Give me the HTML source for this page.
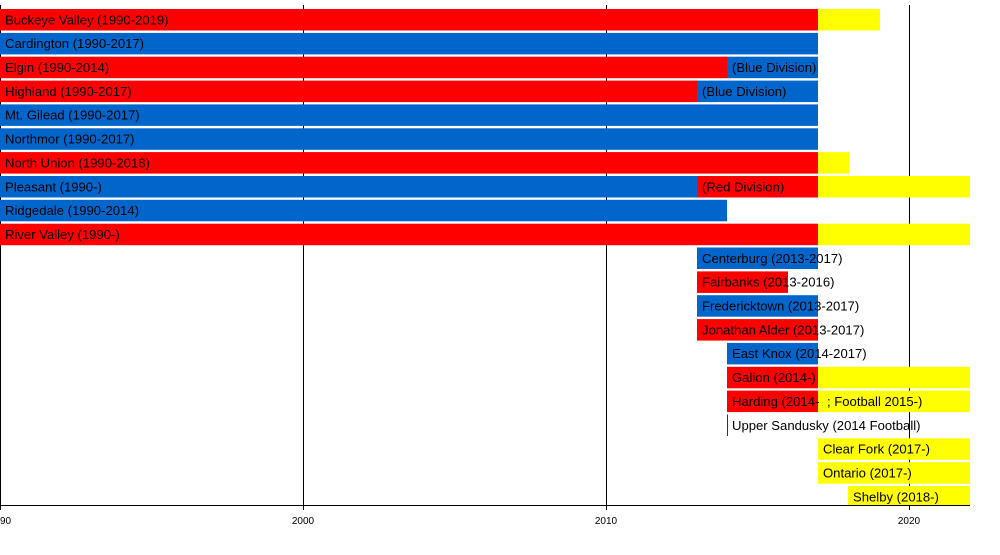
<!DOCTYPE html>
<html><head><style>html,body{margin:0;padding:0;background:#fff;}svg{display:block;}</style></head>
<body>
<svg width="1000" height="555" xmlns="http://www.w3.org/2000/svg" font-family="Liberation Sans, sans-serif">
<g stroke="#000" stroke-width="1">
<line x1="0.5" y1="5" x2="0.5" y2="510"/>
<line x1="303.5" y1="5" x2="303.5" y2="510"/>
<line x1="606.5" y1="5" x2="606.5" y2="510"/>
<line x1="909.5" y1="5" x2="909.5" y2="510"/>
</g>
<g font-size="13.1" fill="#000">
<rect x="0" y="9" width="818" height="21.5" fill="#f00"/><rect x="818" y="9" width="62" height="21.5" fill="#ff0"/>
<text x="5" y="24.3">Buckeye Valley (1990-2019)</text>

<rect x="0" y="32.9" width="818" height="21.5" fill="#0066cc"/>
<text x="5" y="48.2">Cardington (1990-2017)</text>

<rect x="0" y="56.7" width="727" height="21.5" fill="#f00"/><rect x="727" y="56.7" width="91" height="21.5" fill="#0066cc"/>
<text x="5" y="72">Elgin (1990-2014)</text><text x="732" y="72">(Blue Division)</text>

<rect x="0" y="80.6" width="697" height="21.5" fill="#f00"/><rect x="697" y="80.6" width="121" height="21.5" fill="#0066cc"/>
<text x="5" y="95.9">Highland (1990-2017)</text><text x="702" y="95.9">(Blue Division)</text>

<rect x="0" y="104.4" width="818" height="21.5" fill="#0066cc"/>
<text x="5" y="119.7">Mt. Gilead (1990-2017)</text>

<rect x="0" y="128.3" width="818" height="21.5" fill="#0066cc"/>
<text x="5" y="143.6">Northmor (1990-2017)</text>

<rect x="0" y="152.1" width="818" height="21.5" fill="#f00"/><rect x="818" y="152.1" width="31" height="21.5" fill="#ff0"/>
<text x="5" y="167.4">North Union (1990-2018)</text>

<rect x="0" y="176" width="697" height="21.5" fill="#0066cc"/><rect x="697" y="176" width="121" height="21.5" fill="#f00"/><rect x="818" y="176" width="152" height="21.5" fill="#ff0"/>
<text x="5" y="191.3">Pleasant (1990-)</text><text x="702" y="191.3">(Red Division)</text>

<rect x="0" y="199.8" width="727" height="21.5" fill="#0066cc"/>
<text x="5" y="215.1">Ridgedale (1990-2014)</text>

<rect x="0" y="223.7" width="818" height="21.5" fill="#f00"/><rect x="818" y="223.7" width="152" height="21.5" fill="#ff0"/>
<text x="5" y="239">River Valley (1990-)</text>

<rect x="697" y="247.5" width="121" height="21.5" fill="#0066cc"/>
<text x="702" y="262.8">Centerburg (2013-2017)</text>

<rect x="697" y="271.4" width="91" height="21.5" fill="#f00"/>
<text x="702" y="286.7">Fairbanks (2013-2016)</text>

<rect x="697" y="295.2" width="121" height="21.5" fill="#0066cc"/>
<text x="702" y="310.5">Fredericktown (2013-2017)</text>

<rect x="697" y="319.1" width="121" height="21.5" fill="#f00"/>
<text x="702" y="334.4">Jonathan Alder (2013-2017)</text>

<rect x="727" y="342.9" width="91" height="21.5" fill="#0066cc"/>
<text x="732" y="358.2">East Knox (2014-2017)</text>

<rect x="727" y="366.8" width="91" height="21.5" fill="#f00"/><rect x="818" y="366.8" width="152" height="21.5" fill="#ff0"/>
<text x="732" y="382.1">Galion (2014-)</text>

<rect x="727" y="390.6" width="91" height="21.5" fill="#f00"/><rect x="818" y="390.6" width="152" height="21.5" fill="#ff0"/>
<text x="732" y="405.9">Harding (2014-</text><text x="827" y="405.9">; Football 2015-)</text>

<rect x="727" y="414.5" width="1" height="21.5" fill="#a00"/>
<text x="732" y="429.8">Upper Sandusky (2014 Football)</text>

<rect x="818" y="438.3" width="152" height="21.5" fill="#ff0"/>
<text x="823" y="453.6">Clear Fork (2017-)</text>

<rect x="818" y="462.2" width="152" height="21.5" fill="#ff0"/>
<text x="823" y="477.5">Ontario (2017-)</text>

<rect x="848" y="486" width="122" height="19" fill="#ff0"/>
<text x="853" y="501.3">Shelby (2018-)</text>
</g>
<line x1="0" y1="505.5" x2="970" y2="505.5" stroke="#000" stroke-width="1"/>
<g font-size="10" fill="#000" text-anchor="middle">
<text x="0" y="524">1990</text>
<text x="303" y="524">2000</text>
<text x="606" y="524">2010</text>
<text x="909" y="524">2020</text>
</g>
</svg>
</body></html>
